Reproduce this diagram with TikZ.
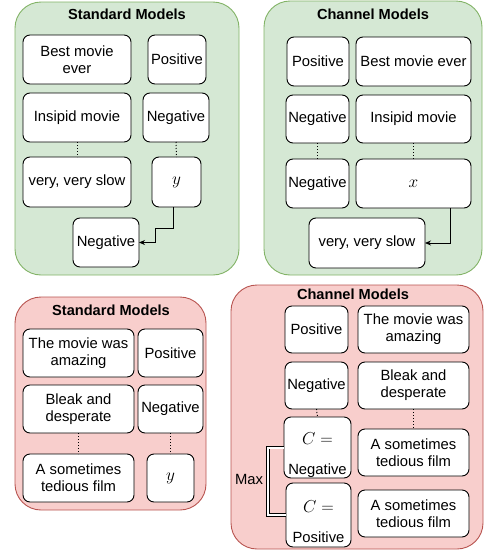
\documentclass[tikz,border=0pt]{standalone}
\usepackage{fontspec}
\setmainfont{Liberation Sans}
\usetikzlibrary{calc,arrows.meta}
\definecolor{gfill}{HTML}{D5E8D4}
\definecolor{gline}{HTML}{82B366}
\definecolor{rfill}{HTML}{F8CECC}
\definecolor{rline}{HTML}{B85450}
\newcommand\mvar[1]{{\fontsize{17}{18}\selectfont$#1$}}
\begin{document}
\begin{tikzpicture}[x=1pt,y=-1pt,
  every node/.style={inner sep=0pt,outer sep=0pt,font=\fontsize{14.8}{17}\selectfont},
  box/.style={draw=black,fill=white,rounded corners=7pt,line width=0.9pt,align=center},
  mbox/.style={draw=black,fill=white,rounded corners=7pt,line width=0.9pt},
  gpanel/.style={draw=gline,fill=gfill,rounded corners=26pt,line width=0.9pt},
  rpanel/.style={draw=rline,fill=rfill,rounded corners=26pt,line width=0.9pt},
  ttl/.style={font=\bfseries\fontsize{14.6}{16}\selectfont},
  dots/.style={dotted,line width=1pt},
  arr/.style={-{Stealth[length=6pt,width=5pt]},line width=0.9pt},
  dbl/.style={double,double distance=2pt,line width=0.8pt},
  cmath/.style={font=\fontsize{17.5}{18}\selectfont}]
\useasboundingbox (0,0) rectangle (484,552);
% panels
\node[gpanel,minimum width=224pt,minimum height=273pt] (pTL) at (127,138.5) {};
\node[gpanel,minimum width=218pt,minimum height=274pt] (pTR) at (373,138) {};
\node[rpanel,minimum width=191pt,minimum height=213pt] (pBL) at (110.5,403.5) {};
\node[rpanel,minimum width=252pt,minimum height=264pt] (pBR) at (357,417) {};
\node[ttl] (tTL) at (127,14) {Standard Models};
\node[ttl] (tTR) at (373,14) {Channel Models};
\node[ttl] (tBL) at (111,310) {Standard Models};
\node[ttl] (tBR) at (353,294) {Channel Models};
% top-left
\node[box,minimum width=108pt,minimum height=49pt] (tlA) at (77,59.5) {Best movie\\ever};
\node[box,minimum width=58pt,minimum height=49pt] (tlP) at (177,59.5) {Positive};
\node[box,minimum width=108pt,minimum height=49pt] (tlB) at (77,117.5) {Insipid movie};
\node[box,minimum width=66pt,minimum height=49pt] (tlN) at (176,117.5) {Negative};
\node[box,minimum width=108pt,minimum height=50pt] (tlC) at (77,182) {very, very slow};
\node[mbox,minimum width=49pt,minimum height=50pt] (tlY) at (176.5,182) {\mvar{y}};
\node[box,minimum width=66pt,minimum height=49pt] (tlO) at (106,242.5) {Negative};
\draw[dots] (tlB.south) -- (tlC.north);
\draw[dots] (tlN.south) -- (tlY.north);
\draw[arr] ($(tlY.south)+(-3.5,0)$) -- ++(0,21) -| ($(tlO.east)+(16,0)$) -- (tlO.east);
% top-right
\node[box,minimum width=62pt,minimum height=49pt] (trP) at (318,61.5) {Positive};
\node[box,minimum width=115pt,minimum height=49pt] (trA) at (413.5,61.5) {Best movie ever};
\node[box,minimum width=63pt,minimum height=48pt] (trN) at (317.5,119) {Negative};
\node[box,minimum width=115pt,minimum height=48pt] (trB) at (413.5,119) {Insipid movie};
\node[box,minimum width=63pt,minimum height=49pt] (trN2) at (317.5,183.5) {Negative};
\node[mbox,minimum width=115pt,minimum height=49pt] (trX) at (413.5,183.5) {\mvar{x}};
\node[box,minimum width=116pt,minimum height=50pt] (trO) at (367,243) {very, very slow};
\draw[dots] (trN.south) -- (trN2.north);
\draw[dots] (trB.south) -- (trX.north);
\draw[arr] ($(trX.south)+(36.5,0)$) |- (trO.east);
% bottom-left
\node[box,minimum width=111pt,minimum height=48pt] (blA) at (78.5,353) {The movie was\\amazing};
\node[box,minimum width=65pt,minimum height=48pt] (blP) at (170.5,353) {Positive};
\node[box,minimum width=111pt,minimum height=48pt] (blB) at (78.5,409) {Bleak and\\desperate};
\node[box,minimum width=65pt,minimum height=48pt] (blN) at (170.5,409) {Negative};
\node[box,minimum width=111pt,minimum height=48pt] (blC) at (78.5,478) {A sometimes\\tedious film};
\node[mbox,minimum width=47pt,minimum height=48pt] (blY) at (170.5,478) {\mvar{y}};
\draw[dots] (blB.south) -- (blC.north);
\draw[dots] (blN.south) -- (blY.north);
% bottom-right
\node[box,minimum width=63pt,minimum height=47pt] (brP) at (316.5,329.5) {Positive};
\node[box,minimum width=111pt,minimum height=47pt] (brA) at (413.5,329.5) {The movie was\\amazing};
\node[box,minimum width=63pt,minimum height=47pt] (brN) at (316.5,385.5) {Negative};
\node[box,minimum width=111pt,minimum height=47pt] (brB) at (413.5,385.5) {Bleak and\\desperate};
\node[box,minimum width=67pt,minimum height=61pt] (brCN) at (317.5,447.5) {};
\node[cmath] (brCNt) at (317.5,439) {$C=$};
\node (brCNl) at (317.5,471) {Negative};
\node[box,minimum width=111pt,minimum height=47pt] (brC) at (413.5,452.5) {A sometimes\\tedious film};
\node[box,minimum width=65pt,minimum height=64pt] (brCP) at (318.5,515) {};
\node[cmath] (brCPt) at (318.5,507) {$C=$};
\node (brCPl) at (318.5,537) {Positive};
\node[box,minimum width=111pt,minimum height=47pt] (brD) at (413.5,513.5) {A sometimes\\tedious film};
\draw[dots] (brN.south) -- (brCN.north);
\draw[dots] (brB.south) -- (brC.north);
\draw[dbl] (brCN.west) -- ++(-16,0) |- (brCP.west);
\node (max) at (249,479) {Max};
\end{tikzpicture}
\end{document}
